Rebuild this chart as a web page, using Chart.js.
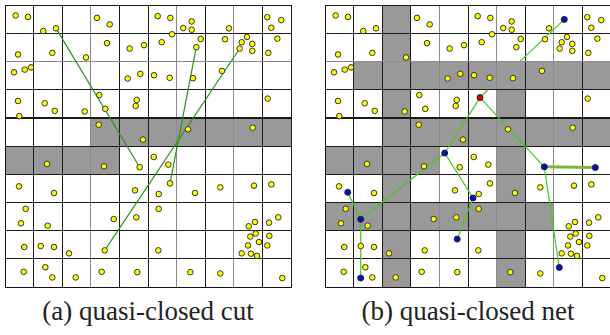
<!DOCTYPE html>
<html><head><meta charset="utf-8">
<script src="https://cdn.jsdelivr.net/npm/chart.js@4/dist/chart.umd.min.js"></script>
<style>
html,body{margin:0;padding:0;background:#fff;width:610px;height:335px;overflow:hidden;position:relative;}
canvas{position:absolute;top:0;}
.cap{position:absolute;font-family:"Liberation Serif","Times New Roman","DejaVu Serif",serif;font-size:27px;line-height:27px;color:#222;white-space:nowrap;text-align:center;width:300px;}
</style></head><body>
<canvas id="ca" width="296" height="292" style="left:0px"></canvas>
<canvas id="cb" width="296" height="292" style="left:320px"></canvas>
<div class="cap" style="left:-2px;top:298px">(a) quasi-closed cut</div>
<div class="cap" style="left:318px;top:298px">(b) quasi-closed net</div>
<script>
// Shared yellow points (same in both panels)
const yellowX = [0.374,0.804,1.339,1.783,3.217,3.661,0.455,1.654,2.832,3.566,4.360,4.860,0.315,0.689,0.909,4.290,4.731,0.455,1.388,1.738,2.787,3.297,3.507,0.500,4.605,4.570,3.276,4.825,5.339,5.780,6.234,6.528,6.528,7.832,9.171,9.661,9.311,5.839,5.479,6.843,6.689,7.692,8.462,8.276,8.647,8.206,8.647,9.521,9.206,5.210,5.759,6.573,7.587,9.185,6.399,8.661,1.469,3.462,4.710,0.490,1.713,4.545,0.724,0.559,1.493,3.801,4.591,0.675,1.248,1.713,2.238,3.486,0.654,1.409,1.654,2.472,3.381,4.626,5.199,5.710,5.769,5.374,6.643,7.528,8.706,9.311,5.374,9.556,9.231,8.741,8.521,5.360,8.766,8.577,9.241,8.881,8.497,9.171,8.276,8.601,8.811,6.479,7.528,9.696];
const yellowY = [9.628,9.579,9.077,9.172,9.544,9.312,8.246,8.305,8.140,8.646,8.456,8.575,7.614,7.709,7.789,7.393,7.558,6.596,6.516,6.246,6.225,6.807,6.316,6.060,6.632,6.421,5.754,5.228,9.604,9.544,9.182,9.418,9.123,9.172,9.568,9.463,9.193,8.961,8.681,8.796,8.505,8.786,8.867,8.681,8.621,8.456,8.375,8.807,8.305,7.509,7.418,7.404,7.663,6.681,5.593,5.649,4.365,4.281,4.246,3.568,3.333,3.428,2.772,2.260,2.175,2.411,2.470,1.418,1.453,1.418,1.193,1.298,0.540,0.702,0.340,0.340,0.540,0.526,4.611,4.340,3.674,3.298,3.333,3.533,3.593,3.639,2.772,2.470,2.281,2.305,2.154,1.298,1.895,1.789,1.814,1.593,1.474,1.474,1.193,1.182,1.102,0.526,0.481,0.316];

// Panel (a): gray cells (lower-left corner) and cut lines
const grayAX = [3,4,5,6,7,8,9,0,1,2,3];
const grayAY = [5,5,5,5,5,5,5,4,4,4,4];
const cutX1 = [1.783,6.689,8.206];
const cutY1 = [9.172,8.505,8.456];
const cutX2 = [4.710,5.769,3.486];
const cutY2 = [4.246,3.674,1.298];

// Panel (b): gray cells, net nodes and edges
const grayBX = [2, 2, 1,2,3,4,5,6,7,8,9, 2,6, 2,3,4,5,6,7,8,9, 0,1,2,3,6, 2,6, 0,1,2,3,4,5,6,7, 2,6, 2,6];
const grayBY = [9, 8, 7,7,7,7,7,7,7,7,7, 6,6, 5,5,5,5,5,5,5,5, 4,4,4,4,4, 3,3, 2,2,2,2,2,2,2,2, 1,1, 0,0];
const nodeX = [8.367,5.420,4.185,5.175,4.622,7.668,9.451,8.192,0.794,1.248,1.248];
const nodeY = [9.488,6.716,4.751,3.158,1.698,4.260,4.235,0.691,3.358,2.400,0.316];
const nodeColor = ['#0a0ad0','#e00000','#0a0ad0','#0a0ad0','#0a0ad0','#0a0ad0','#0a0ad0','#0a0ad0','#0a0ad0','#0a0ad0','#0a0ad0'];
const edgeFrom = [1,1,5,5,2,3,2,8,9];
const edgeTo   = [2,5,6,7,3,4,9,9,10];
const edgeWide = [0,0,1,0,0,0,0,0,0];
// the top link (node 0 to node 1) is hidden behind the gray band: visible pieces
const linkX1 = [8.367,5.699];
const linkY1 = [9.488,6.996];
const linkX2 = [6.818,5.420];
const linkY2 = [8.000,6.716];

function cellsPlugin(gx, gy){
  return {id:'cells', beforeDraw(chart){
    const c=chart.ctx, xs=chart.scales.x, ys=chart.scales.y;
    c.save(); c.fillStyle='#999999';
    for(let i=0;i<gx.length;i++){
      const x0=xs.getPixelForValue(gx[i]), x1=xs.getPixelForValue(gx[i]+1);
      const y0=ys.getPixelForValue(gy[i]+1), y1=ys.getPixelForValue(gy[i]);
      c.fillRect(x0,y0,x1-x0,y1-y0);
    }
    c.restore();
  }};
}
function scalesCfg(grayV){
  return {
    x:{type:'linear',min:0,max:10,ticks:{stepSize:1,display:false},
       grid:{drawTicks:false,color:(ctx)=>grayV.includes(ctx.tick.value)?'#8a8a8a':'#1a1a1a',lineWidth:1},
       border:{display:true,color:'#111',width:1}},
    y:{type:'linear',min:0,max:10,ticks:{stepSize:1,display:false},
       grid:{drawTicks:false,color:(ctx)=>ctx.tick.value===8?'#8a8a8a':'#1a1a1a',lineWidth:(ctx)=>ctx.tick.value===6?2:1},
       border:{display:true,color:'#111',width:1}}
  };
}
const yellowData = yellowX.map((x,i)=>({x:x,y:yellowY[i]}));
const pointDs = {type:'scatter',data:yellowData,pointRadius:2.8,pointBorderWidth:1,pointBackgroundColor:'#ffff00',pointBorderColor:'#333',order:0};
function lineDs(a,b,color,w){
  return {type:'line',data:[a,b],showLine:true,pointRadius:0,borderColor:color,borderWidth:w,fill:false,order:2};
}
const commonOpts = (grayV)=>({
  responsive:false,animation:false,devicePixelRatio:1,
  layout:{padding:{left:5,top:3,right:5,bottom:4}},
  plugins:{legend:{display:false},tooltip:{enabled:false}},
  scales:scalesCfg(grayV)
});

// Panel (a)
const dsA=[pointDs];
for(let i=0;i<cutX1.length;i++) dsA.push(lineDs({x:cutX1[i],y:cutY1[i]},{x:cutX2[i],y:cutY2[i]},'#2a921a',1.2));
new Chart(document.getElementById('ca'),{type:'scatter',data:{datasets:dsA},options:commonOpts([3,6,8]),plugins:[cellsPlugin(grayAX,grayAY)]});

// Panel (b)
const dsB=[Object.assign({},pointDs,{data:yellowData.slice()}),
  {type:'scatter',data:nodeX.map((x,i)=>({x:x,y:nodeY[i]})),pointRadius:3,pointBorderWidth:1,pointBackgroundColor:nodeColor,pointBorderColor:'#222',order:0}];
for(let i=0;i<edgeFrom.length;i++){
  const a=edgeFrom[i], b=edgeTo[i];
  dsB.push(lineDs({x:nodeX[a],y:nodeY[a]},{x:nodeX[b],y:nodeY[b]},edgeWide[i]?'#7cb83a':'#45c81e',edgeWide[i]?3:1.2));
}
for(let i=0;i<linkX1.length;i++) dsB.push(lineDs({x:linkX1[i],y:linkY1[i]},{x:linkX2[i],y:linkY2[i]},'#45c81e',1.2));
new Chart(document.getElementById('cb'),{type:'scatter',data:{datasets:dsB},options:commonOpts([4,6,8]),plugins:[cellsPlugin(grayBX,grayBY)]});
</script>
</body></html>
